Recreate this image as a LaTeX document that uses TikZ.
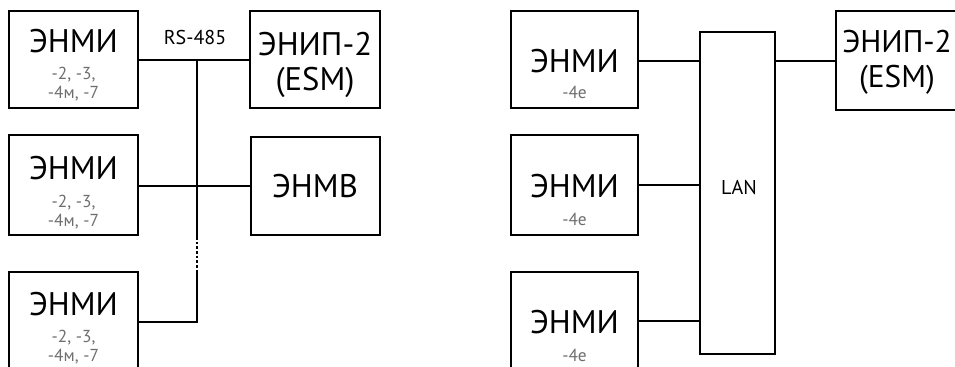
\documentclass[tikz,border=0pt]{standalone}
\usepackage{fontspec}
\setmainfont{PT Sans}
\definecolor{subgray}{HTML}{6E6E6E}
\begin{document}
\begin{tikzpicture}[x=0.75pt,y=-0.75pt,
  box/.style={draw=black, line width=2pt, fill=none, minimum width=#1*0.75pt, inner sep=0pt},
  lanbox/.style={draw=black, line width=1.4pt, inner sep=0pt},
  wire/.style={line width=1.3pt},
  big/.style={font=\fontsize{24.5}{28}\selectfont, inner sep=0pt, anchor=base},
  small/.style={font=\fontsize{13}{15}\selectfont, text=subgray, inner sep=0pt, anchor=base},
  mid/.style={font=\fontsize{15}{18}\selectfont, inner sep=0pt, anchor=base}]
\useasboundingbox (0,0) rectangle (955,367);
\clip (0,0) rectangle (955,367);
% left part boxes
\node[box=129, minimum height=97*0.75pt] (L1) at (73.5,59.5) {};
\node[box=129, minimum height=100*0.75pt] (L2) at (73.5,185) {};
\node[box=129, minimum height=97*0.75pt] (L3) at (73.5,320.5) {};
\node[box=130, minimum height=97*0.75pt] (P1) at (315,59.5) {};
\node[box=129, minimum height=98*0.75pt] (V1) at (315.5,186) {};
% texts left
\node[big] (L1a) at (73.5,53) {ЭНМИ};
\node[small] (L1b) at (73.5,80) {-2, -3,};
\node[small] (L1c) at (73.5,99) {-4м, -7};
\node[big] (L2a) at (73.5,179) {ЭНМИ};
\node[small] (L2b) at (73.5,207) {-2, -3,};
\node[small] (L2c) at (73.5,226) {-4м, -7};
\node[big] (L3a) at (73.5,315) {ЭНМИ};
\node[small] (L3b) at (73.5,342) {-2, -3,};
\node[small] (L3c) at (73.5,361) {-4м, -7};
\node[big] (P1a) at (315,56) {ЭНИП-2};
\node[big] (P1b) at (315,91) {(ESM)};
\node[big] (V1a) at (315,197) {ЭНМВ};
\node[mid] (rs) at (195,45) {RS-485};
% bus
\coordinate (b1) at (197,60);
\coordinate (b2) at (197,237);
\coordinate (b3) at (197,272);
\coordinate (b4) at (197,322);
\draw[wire] (L1.east |- b1) -- (P1.west |- b1);
\draw[wire] (b1) -- (b2);
\draw[wire, dash pattern=on 2pt off 1.5pt] (b2) -- (b3);
\draw[wire] (b3) -- (b4) -- (L3.east |- b4);
\draw[wire] (L2.east |- 0,186) -- (V1.west |- 0,186);
% right part
\node[box=127, minimum height=97*0.75pt] (R1) at (574.5,59.5) {};
\node[box=127, minimum height=100*0.75pt] (R2) at (574.5,185) {};
\node[box=127, minimum height=97*0.75pt] (R3) at (574.5,320.5) {};
\node[box=130, minimum height=99*0.75pt] (P2) at (901,60.5) {};
\node[lanbox, minimum width=75*0.75pt, minimum height=322*0.75pt] (LAN) at (737.5,193) {};
\node[mid] (LANt) at (739,194) {LAN};
\node[big] (R1a) at (574.5,73) {ЭНМИ};
\node[small] (R1b) at (574.5,99) {-4e};
\node[big] (R2a) at (574.5,197) {ЭНМИ};
\node[small] (R2b) at (574.5,225) {-4e};
\node[big] (R3a) at (574.5,333) {ЭНМИ};
\node[small] (R3b) at (574.5,361) {-4e};
\node[big, font=\fontsize{23.5}{28}\selectfont] (P2a) at (897,53) {ЭНИП-2};
\node[big, font=\fontsize{23.5}{28}\selectfont] (P2b) at (897,88) {(ESM)};
\draw[wire] (R1.east |- 0,61) -- (LAN.west |- 0,61);
\draw[wire] (R2.east |- 0,185) -- (LAN.west |- 0,185);
\draw[wire] (R3.east |- 0,321) -- (LAN.west |- 0,321);
\draw[wire] (LAN.east |- 0,61) -- (P2.west |- 0,61);
\end{tikzpicture}
\end{document}
